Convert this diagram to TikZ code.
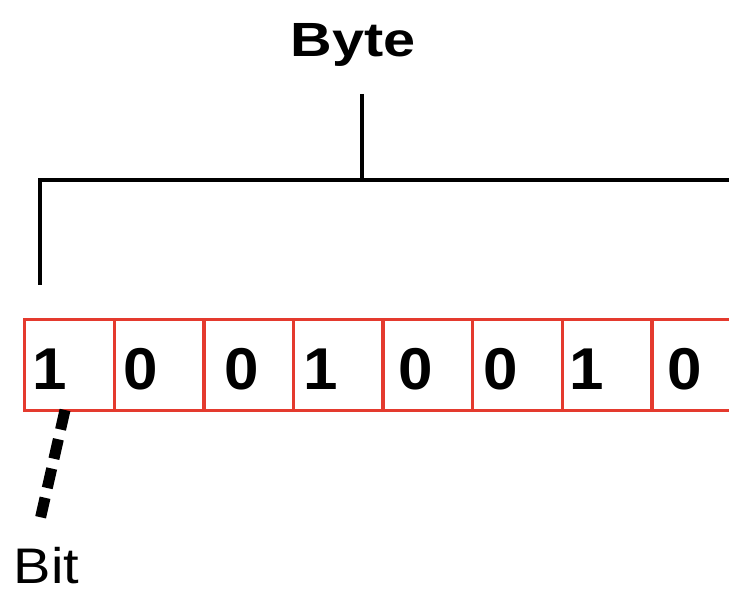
\documentclass[tikz,border=0pt]{standalone}
\usepackage{fontspec}
\setmainfont{Liberation Sans}
\definecolor{cellred}{RGB}{228,58,46}
\begin{document}
\begin{tikzpicture}[x=1pt,y=-1pt,
  cellbox/.style={draw=cellred,line width=3.4pt,minimum width=89.6pt,minimum height=91pt,inner sep=0pt,anchor=north west},
  digit/.style={font=\fontsize{59}{59}\selectfont\bfseries,anchor=base,inner sep=0pt},
  bracket/.style={line width=3.6pt}]
\useasboundingbox (0,0) rectangle (729,593);
\begin{scope}
\clip (0,0) rectangle (729,593);
\foreach \i in {1,...,8}{
  \node[cellbox] (c\i) at ({23+(\i-1)*89.6},318) {};
}
\coordinate (bl) at (40,285);
\coordinate (bc) at (362,180);
\coordinate (br) at (740,180);
\coordinate (bt) at (362,94);
\draw[bracket] (bl) -- (40,180) -- (br);
\draw[bracket] (bt) -- (bc);
\end{scope}
\foreach \d/\x [count=\i] in {1/50,0/141,0/242,1/321,0/416,0/501,1/587,0/685}{
  \node[digit] (d\i) at (\x,390) {\scalebox{1.05}[1]{\d}};
}
\node[font=\fontsize{48}{48}\selectfont\bfseries,anchor=base,inner sep=0pt] (byte) at (353,57) {\scalebox{1.2}[1]{Byte}};
\node[font=\fontsize{50}{50}\selectfont,anchor=base,inner sep=0pt] (bit) at (46.5,584) {\scalebox{1.12}[1]{Bit}};
\coordinate (bitend) at (40,520);
\draw[line width=11pt,dash pattern=on 20pt off 10pt] (65,410) -- (bitend);
\end{tikzpicture}
\end{document}
